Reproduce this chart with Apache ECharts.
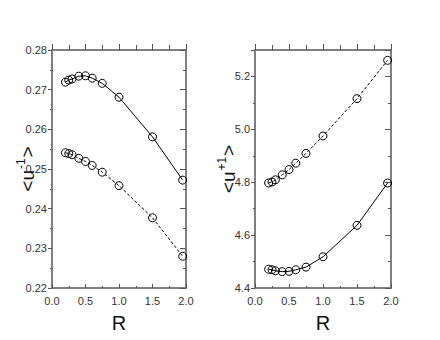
<!DOCTYPE html>
<html>
<head>
<meta charset="utf-8">
<script src="https://cdn.jsdelivr.net/npm/echarts@6/dist/echarts.min.js"></script>
<style>
  html, body { margin: 0; padding: 0; background: #fff; }
  #chart { width: 440px; height: 340px; }
</style>
</head>
<body>
<div id="chart"></div>
<script>
var rVals = [0.2, 0.25, 0.3, 0.4, 0.5, 0.6, 0.75, 1.0, 1.5, 1.95];
var uMinusSolid = [0.2719, 0.2724, 0.2727, 0.2734, 0.2735, 0.2729, 0.2716, 0.2681, 0.2581, 0.2472];
var uMinusDashed = [0.2541, 0.2539, 0.2536, 0.2527, 0.2519, 0.2509, 0.2492, 0.2458, 0.2377, 0.2280];
var uPlusDashed = [4.797, 4.801, 4.809, 4.828, 4.848, 4.872, 4.909, 4.975, 5.116, 5.261];
var uPlusSolid = [4.471, 4.469, 4.465, 4.462, 4.463, 4.469, 4.479, 4.518, 4.637, 4.797];

function pairs(xs, ys) {
  return xs.map(function(x, i) { return [x, ys[i]]; });
}

(function() {
  var font = 'Liberation Sans, Arial, sans-serif';
  var frame = '#808080';
  var tickCol = '#555';
  var labelCol = '#333';

  function xAxis(grid, top) {
    return {
      type: 'value', gridIndex: grid, position: top ? 'top' : 'bottom',
      min: 0, max: 2, interval: 0.5,
      name: top ? '' : 'R', nameLocation: 'middle', nameGap: 25,
      nameTextStyle: { fontSize: 20, color: '#111', fontFamily: font },
      axisLine: { show: true, onZero: false, lineStyle: { color: frame, width: 2 } },
      axisTick: { show: true, inside: !top, length: top ? 6 : 4, lineStyle: { color: tickCol } },
      minorTick: { show: true, splitNumber: 2, length: top ? 5 : 2, lineStyle: { color: tickCol } },
      axisLabel: { show: !top, color: labelCol, fontSize: 11, fontFamily: font, margin: 7,
        formatter: function(v) { return v.toFixed(1); } },
      splitLine: { show: false }
    };
  }

  function yAxis(grid, right, min, max, step, digits, sup) {
    return {
      type: 'value', gridIndex: grid, position: right ? 'right' : 'left',
      min: min, max: max, interval: step,
      name: right ? '' : '{a|<u}{s|' + sup + '}{a|>}',
      nameLocation: 'middle', nameGap: digits === 2 ? 13 : 15,
      nameMoveOverlap: false,
      nameTextStyle: {
        color: '#111', fontFamily: font,
        rich: {
          a: { fontSize: 19, fontFamily: font, color: '#111' },
          s: { fontSize: 12, fontFamily: font, color: '#111', verticalAlign: 'top', padding: [0, 1, 12, 1] }
        }
      },
      axisLine: { show: true, onZero: false, lineStyle: { color: frame, width: 2 } },
      axisTick: { show: true, inside: right, length: right ? 6 : 4, lineStyle: { color: tickCol } },
      minorTick: { show: true, splitNumber: 2, length: right ? 3 : 2, lineStyle: { color: tickCol } },
      axisLabel: { show: !right, color: labelCol, fontSize: 11, fontFamily: font, margin: 5,
        showMaxLabel: digits === 2,
        formatter: function(v) { return v.toFixed(digits); } },
      splitLine: { show: false }
    };
  }

  function line(xi, yi, ys, dashed) {
    return {
      type: 'line', xAxisIndex: xi, yAxisIndex: yi,
      data: pairs(rVals, ys),
      symbol: 'circle', symbolSize: 8,
      itemStyle: { color: 'transparent', borderColor: '#000', borderWidth: 1 },
      lineStyle: { color: '#000', width: 1, type: dashed ? [3, 2] : 'solid' },
      emphasis: { disabled: true }
    };
  }

  var chart = echarts.init(document.getElementById('chart'), null, { renderer: 'svg' });
  chart.setOption({
    animation: false,
    backgroundColor: '#fff',
    grid: [
      { left: 52, top: 50, width: 134, height: 238 },
      { left: 255, top: 50, width: 136, height: 238 }
    ],
    xAxis: [xAxis(0, false), xAxis(0, true), xAxis(1, false), xAxis(1, true)],
    yAxis: [
      yAxis(0, false, 0.22, 0.28, 0.01, 2, '-1'),
      yAxis(0, true, 0.22, 0.28, 0.01, 2, ''),
      yAxis(1, false, 4.4, 5.3, 0.2, 1, '+1'),
      yAxis(1, true, 4.4, 5.3, 0.2, 1, '')
    ],
    series: [
      line(0, 0, uMinusSolid, false),
      line(0, 0, uMinusDashed, true),
      line(2, 2, uPlusDashed, true),
      line(2, 2, uPlusSolid, false)
    ]
  });
})();
</script>
</body>
</html>
